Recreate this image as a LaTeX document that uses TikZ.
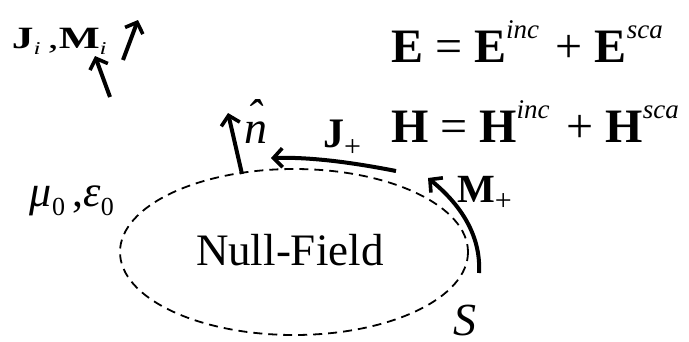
\documentclass[tikz,border=0pt]{standalone}
\usepackage{fontspec}
\setmainfont{Liberation Serif}
\usetikzlibrary{arrows.meta}
\newcommand\subt[2]{\raisebox{-0.22em}{\fontsize{#1}{#1}\selectfont #2}}
\newcommand\supt[2]{\raisebox{0.5em}{\fontsize{#1}{#1}\selectfont\itshape #2}}
\newcommand\fs[1]{\fontsize{#1}{#1}\selectfont}
\begin{document}
\begin{tikzpicture}[x=1pt,y=-1pt,
  lbl/.style={inner sep=0pt,outer sep=0pt,anchor=base west},
  cur/.style={line width=4pt,-{Straight Barb[length=9pt,width=19pt,line width=3.6pt]}},
  surf/.style={line width=1.8pt,dash pattern=on 9pt off 6pt}]
\useasboundingbox (0,0) rectangle (689,341);
% surface
\draw[surf] (294,252) ellipse [x radius=174, y radius=83];
\node[lbl] (nf) at (196,265) {\fs{45}Null-Field};
% equations
\node[lbl] (eqE) at (391,62) {\fs{48}\textbf{E} = \textbf{E}\supt{27}{inc}\hspace{0.35em}+ \textbf{E}\supt{27}{sca}};
\node[lbl] (eqH) at (391,142) {\fs{48}\textbf{H} = \textbf{H}\supt{27}{inc}\hspace{0.35em}+ \textbf{H}\supt{27}{sca}};
% labels
\node[lbl] (ji) at (12,48) {\scalebox{1.4}[1]{\fs{31}\textbf{J}\subt{18}{\textit{i}}\,,\textbf{M}\subt{18}{\textit{i}}}};
\node[lbl] (mu) at (30,206) {\fs{44}\textit{μ}\subt{26}{0}\,,\textit{ε}\subt{26}{0}};
\node[lbl] (jp) at (323,147) {\fs{42}\textbf{J}\subt{30}{+}};
\node[lbl] (mp) at (457,202) {\fs{40}\textbf{M}\subt{30}{+}};
\node[lbl] (s) at (453,335) {\fs{46}\textit{S}};
\node[lbl] (nh) at (244,143) {\fs{46}\ooalign{\textit{n}\cr\hidewidth\raisebox{0.24em}{\textit{ˆ}}\hidewidth\cr}};
% arrows
\coordinate (n0) at (242,174);
\coordinate (n1) at (228,113);
\draw[cur] (n0) -- (n1);
\coordinate (j0) at (396,171);
\coordinate (j1) at (271,158);
\draw[cur] (j0) .. controls (350,162) and (310,157) .. (j1);
\coordinate (m0) at (479,273);
\coordinate (m1) at (428,178);
\draw[cur] (m0) .. controls (481,240) and (465,208) .. (m1);
\coordinate (a0) at (110,97);
\coordinate (a1) at (95,56);
\draw[cur] (a0) -- (a1);
\coordinate (b0) at (123,60);
\coordinate (b1) at (138,20);
\draw[cur] (b0) -- (b1);
\end{tikzpicture}
\end{document}
